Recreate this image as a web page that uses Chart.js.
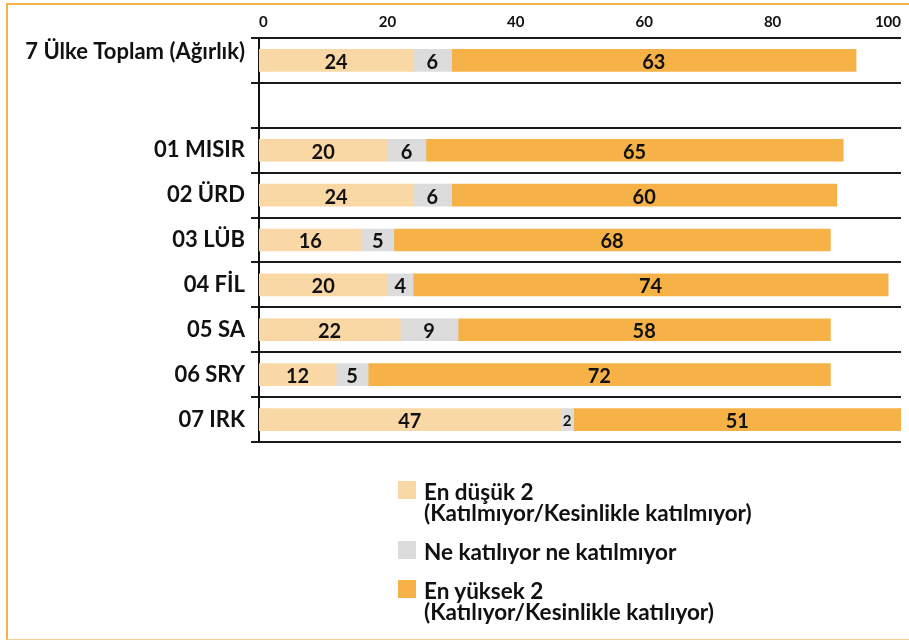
<!DOCTYPE html>
<html>
<head>
<meta charset="utf-8">
<script src="https://cdn.jsdelivr.net/npm/chart.js@4"></script>
<style>
  html, body { margin:0; padding:0; background:#fff; }
  body { width:909px; height:642px; position:relative; overflow:hidden; font-family: Lato, "Noto Sans", sans-serif; }
  #frame { position:absolute; left:6px; top:3px; width:903px; height:637px; border-top:2px solid #F6B24A; border-left:2px solid #F6B24A; border-bottom:1px solid #F7CC8C; box-sizing:border-box; }
  #wrap { position:absolute; left:0; top:0; width:909px; height:642px; }
  .leg { position:absolute; left:398px; font-weight:700; font-size:22.5px; line-height:21px; color:#111; }
  .leg .sw { position:absolute; left:0; top:0; width:18px; height:18px; }
  .leg .tx { position:absolute; left:26px; top:0; white-space:nowrap; }
</style>
</head>
<body>
<div id="frame"></div>
<div id="wrap"><canvas id="c" width="909" height="642"></canvas></div>
<div class="leg" style="top:481px"><div class="sw" style="background:#F9D8A5"></div><div class="tx">En düşük 2<br>(Katılmıyor/Kesinlikle katılmıyor)</div></div>
<div class="leg" style="top:541px"><div class="sw" style="background:#DCDCDC"></div><div class="tx">Ne katılıyor ne katılmıyor</div></div>
<div class="leg" style="top:580px"><div class="sw" style="background:#F6B247"></div><div class="tx">En yüksek 2<br>(Katılıyor/Kesinlikle katılıyor)</div></div>
<script>
const categories = [["7 Ülke Toplam (Ağırlık)", ""], "", "01 MISIR", "02 ÜRD", "03 LÜB", "04 FİL", "05 SA", "06 SRY", "07 IRK"];
const seriesNames = ["En düşük 2 (Katılmıyor/Kesinlikle katılmıyor)", "Ne katılıyor ne katılmıyor", "En yüksek 2 (Katılıyor/Kesinlikle katılıyor)"];
const lowValues = [24, null, 20, 24, 16, 20, 22, 12, 47];
const neutralValues = [6, null, 6, 6, 5, 4, 9, 5, 2];
const highValues = [63, null, 65, 60, 68, 74, 58, 72, 51];
const xTicks = [0, 20, 40, 60, 80, 100];
const colors = ["#F9D8A5", "#DCDCDC", "#F6B247"];

const valueLabels = {
  id: 'valueLabels',
  afterDatasetsDraw(chart) {
    const ctx = chart.ctx;
    ctx.save();
    ctx.fillStyle = "#111";
    ctx.textAlign = "center";
    ctx.textBaseline = "middle";
    chart.data.datasets.forEach((ds, i) => {
      const meta = chart.getDatasetMeta(i);
      meta.data.forEach((bar, j) => {
        const v = ds.data[j];
        if (v === null || v === undefined) return;
        const cx = (bar.x + bar.base) / 2;
        ctx.font = (v < 3) ? "700 15px Lato, 'Noto Sans', sans-serif" : "700 20px Lato, 'Noto Sans', sans-serif";
        ctx.fillText(String(v), cx, bar.y + 2);
      });
    });
    ctx.restore();
  }
};

new Chart(document.getElementById('c'), {
  type: 'bar',
  data: {
    labels: categories,
    datasets: [
      { label: seriesNames[0], data: lowValues, backgroundColor: colors[0] },
      { label: seriesNames[1], data: neutralValues, backgroundColor: colors[1] },
      { label: seriesNames[2], data: highValues, backgroundColor: colors[2] }
    ]
  },
  options: {
    indexAxis: 'y',
    responsive: false,
    animation: false,
    barThickness: 22,
    layout: { padding: { left: 0, top: 4, right: 8, bottom: 200 } },
    plugins: { legend: { display: false }, tooltip: { enabled: false } },
    scales: {
      x: {
        position: 'top',
        stacked: true,
        min: 0, max: 100,
        afterBuildTicks: (s) => { s.ticks = xTicks.map(v => ({ value: v })); },
        grid: { display: false, drawTicks: false },
        border: { display: false },
        ticks: { align: 'inner', padding: 7, color: '#111', font: { family: "Lato, 'Noto Sans', sans-serif", size: 15, weight: '700' } },
        afterFit: (s) => { s.height = 34; }
      },
      y: {
        stacked: true,
        grid: { display: true, offset: true, color: '#1a1a1a', lineWidth: 2, tickLength: 8, drawTicks: true },
        border: { display: true, color: '#111', width: 2 },
        ticks: { autoSkip: false, padding: 6, color: '#111', font: { family: "Lato, 'Noto Sans', sans-serif", size: 22, weight: '700', lineHeight: 0.8 } },
        afterFit: (s) => { s.width = 259; }
      }
    }
  },
  plugins: [valueLabels]
});
</script>
</body>
</html>
